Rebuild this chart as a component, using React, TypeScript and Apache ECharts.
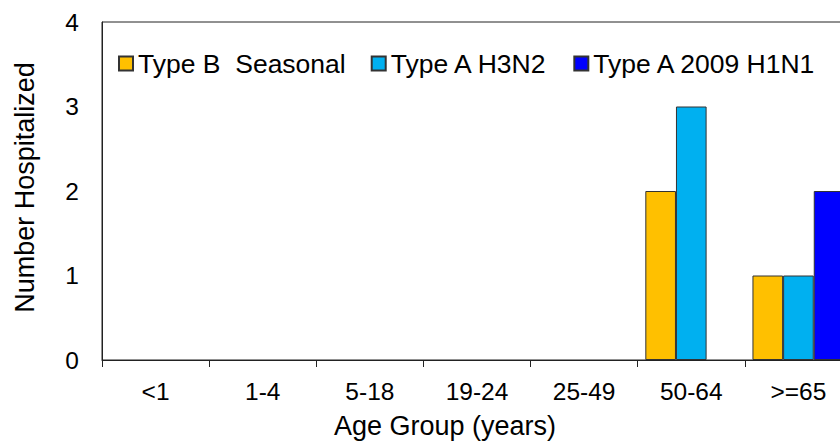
import React, { useEffect, useRef } from "react";
import * as echarts from "echarts";

const categories = ["<1", "1-4", "5-18", "19-24", "25-49", "50-64", ">=65"];
const typeBSeasonal = [0, 0, 0, 0, 0, 2, 1];
const typeAH3N2 = [0, 0, 0, 0, 0, 3, 1];
const typeA2009H1N1 = [0, 0, 0, 0, 0, 0, 2];
const seriesNames = ["Type B  Seasonal", "Type A H3N2", "Type A 2009 H1N1"];
const seriesColors = ["#FFC000", "#00B0F0", "#0000FF"];

const FONT = "Liberation Sans, Arial, sans-serif";

export default function App() {
  const ref = useRef<HTMLDivElement>(null);
  useEffect(() => {
    document.body.style.margin = "0";
    if (!ref.current) return;
    const chart = echarts.init(ref.current, null, { renderer: "svg" });
    const values = [typeBSeasonal, typeAH3N2, typeA2009H1N1];
    chart.setOption({
      animation: false,
      backgroundColor: "#fff",
      textStyle: { fontFamily: FONT, color: "#000" },
      grid: {
        left: 102,
        top: 22,
        width: 750,
        height: 338,
        show: true,
        borderColor: "#222",
        borderWidth: 1,
        containLabel: false,
        outerBoundsMode: "none",
      },
      legend: {
        left: 113,
        top: 45,
        itemWidth: 14,
        itemHeight: 14,
        itemGap: 25,
        icon: "rect",
        textStyle: { fontFamily: FONT, fontSize: 26.5, color: "#000" },
        data: seriesNames,
      },
      xAxis: {
        type: "category",
        data: categories,
        name: "Age Group (years)",
        nameLocation: "middle",
        nameGap: 52,
        nameTextStyle: { fontFamily: FONT, fontSize: 27, color: "#000", padding: [0, 64, 0, 0] },
        axisLine: { show: true, lineStyle: { color: "#222", width: 1 } },
        axisTick: { show: true, length: 7, lineStyle: { color: "#222" } },
        axisLabel: { fontFamily: FONT, fontSize: 24.5, color: "#000", margin: 19 },
      },
      yAxis: {
        type: "value",
        min: 0,
        max: 4,
        interval: 1,
        name: "Number Hospitalized",
        nameLocation: "middle",
        nameRotate: 90,
        nameGap: 64,
        nameTextStyle: { fontFamily: FONT, fontSize: 27, color: "#000", padding: [0, 0, 0, 7] },
        axisLine: { show: true, lineStyle: { color: "#222", width: 1 } },
        axisTick: { show: false },
        splitLine: { show: false },
        axisLabel: { fontFamily: FONT, fontSize: 24.5, color: "#000", margin: 23 },
      },
      series: seriesNames.map((name, i) => ({
        name,
        type: "bar",
        data: values[i].map((v) => (v === 0 ? { value: v, itemStyle: { borderWidth: 0 } } : v)),
        barGap: "0%",
        barCategoryGap: "14.2%",
        itemStyle: { color: seriesColors[i], borderColor: "#333", borderWidth: 1 },
      })),
    });
    return () => chart.dispose();
  }, []);
  return <div ref={ref} style={{ width: 840, height: 446 }} />;
}
